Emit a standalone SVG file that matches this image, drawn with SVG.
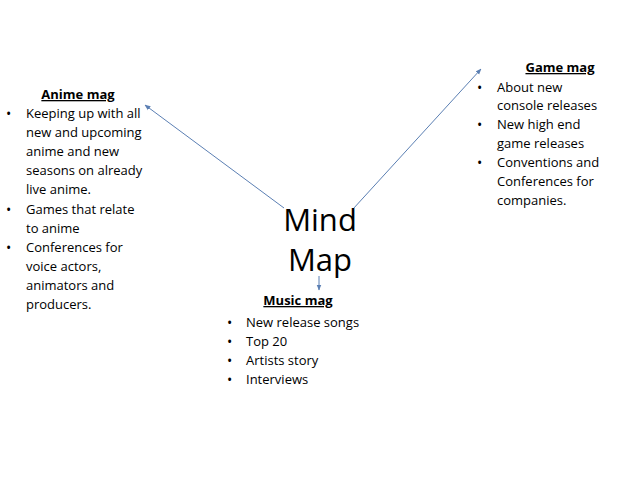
<svg xmlns="http://www.w3.org/2000/svg" width="638" height="479" viewBox="0 0 638 479">
<defs>
<style>
text{font-family:"Open Sans","Liberation Sans",sans-serif;font-size:13px;fill:#000}
.t{font-weight:bold;text-decoration:underline;text-anchor:middle}
.b{font-size:14px}
.big{font-size:31px;text-anchor:middle}
.c{stroke:#5b7fb3;stroke-width:1;fill:none;marker-end:url(#a)}
</style>
<marker id="a" viewBox="0 0 10 10" refX="9" refY="5" markerWidth="6" markerHeight="6" orient="auto"><path d="M0,1 L10,5 L0,9 z" fill="#5b7fb3"/></marker>
</defs>
<rect width="638" height="479" fill="#fff"/>
<g id="connectors">
<line class="c" x1="284" y1="208" x2="145" y2="105"/>
<line class="c" x1="353" y1="209" x2="481" y2="69"/>
<line class="c" x1="319" y1="276" x2="319" y2="290"/>
</g>
<g id="center"><text class="big" x="320" y="231">Mind</text><text class="big" x="320" y="271">Map</text></g>
<g id="anime">
<text class="t" x="78" y="99">Anime mag</text>
<text class="b" x="6" y="119">•</text><text x="26" y="118">Keeping up with all</text>
<text x="26" y="137">new and upcoming</text>
<text x="26" y="156">anime and new</text>
<text x="26" y="175">seasons on already</text>
<text x="26" y="194">live anime.</text>
<text class="b" x="6" y="215">•</text><text x="26" y="214">Games that relate</text>
<text x="26" y="233">to anime</text>
<text class="b" x="6" y="253">•</text><text x="26" y="252">Conferences for</text>
<text x="26" y="271">voice actors,</text>
<text x="26" y="290">animators and</text>
<text x="26" y="309">producers.</text>
</g>
<g id="game">
<text class="t" x="560" y="72">Game mag</text>
<text class="b" x="477" y="93">•</text><text x="497" y="92">About new</text>
<text x="497" y="110">console releases</text>
<text class="b" x="477" y="130">•</text><text x="497" y="129">New high end</text>
<text x="497" y="148">game releases</text>
<text class="b" x="477" y="168">•</text><text x="497" y="167">Conventions and</text>
<text x="497" y="186">Conferences for</text>
<text x="497" y="205">companies.</text>
</g>
<g id="music">
<text class="t" x="298" y="305">Music mag</text>
<text class="b" x="227" y="328">•</text><text x="246" y="327">New release songs</text>
<text class="b" x="227" y="347">•</text><text x="246" y="346">Top 20</text>
<text class="b" x="227" y="366">•</text><text x="246" y="365">Artists story</text>
<text class="b" x="227" y="385">•</text><text x="246" y="384">Interviews</text>
</g>
</svg>
